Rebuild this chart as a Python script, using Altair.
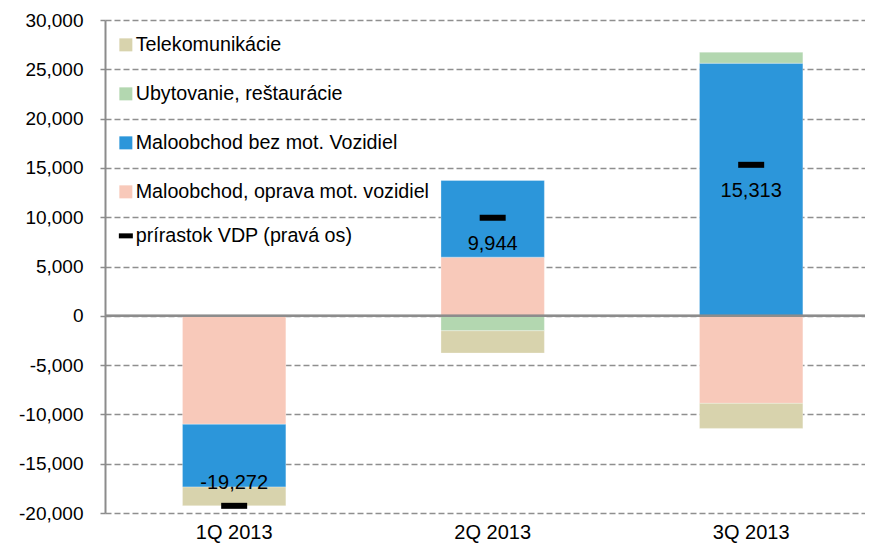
import altair as alt
import pandas as pd

quarters = ["1Q 2013", "2Q 2013", "3Q 2013"]
series_names = [
    "Maloobchod, oprava mot. vozidiel",
    "Maloobchod bez mot. Vozidiel",
    "Ubytovanie, reštaurácie",
    "Telekomunikácie",
]
oprava = [-11000, 5950, -8880]
bez_voz = [-6370, 7780, 25620]
ubytovanie = [0, -1520, 1120]
telekom = [-1900, -2260, -2540]
vdp = [-19272, 9944, 15313]
vdp_name = "prírastok VDP (pravá os)"

legend_order = [
    "Telekomunikácie",
    "Ubytovanie, reštaurácie",
    "Maloobchod bez mot. Vozidiel",
    "Maloobchod, oprava mot. vozidiel",
]
legend_colors = ["#D8D3AD", "#B3D7B0", "#2C96DA", "#F8C9BA"]

rows = []
for i, q in enumerate(quarters):
    for k, (name, vals) in enumerate(zip(series_names, [oprava, bez_voz, ubytovanie, telekom])):
        rows.append({"q": q, "series": name, "value": vals[i], "order": k})
bars_df = pd.DataFrame(rows)
vdp_df = pd.DataFrame({"q": quarters, "vdp": vdp, "name": [vdp_name] * 3})

FONT = "Liberation Sans"

xscale = alt.Scale(domain=quarters, paddingInner=0.6, paddingOuter=0.27, align=0.555)
yscale = alt.Scale(domain=[-20000, 30000], nice=False, zero=False)

x_enc = alt.X(
    "q:N", scale=xscale, sort=quarters, title=None,
    axis=alt.Axis(labelAngle=0, labelFontSize=20, labelFont=FONT, labelColor="black",
                  ticks=False, tickSize=0, domain=False, grid=False,
                  labelBaseline="alphabetic", labelPadding=25),
)

bars = alt.Chart(bars_df).mark_bar(stroke="white", strokeWidth=0.5, strokeOpacity=0.6).encode(
    x=x_enc,
    y=alt.Y(
        "value:Q", scale=yscale, stack="zero", title=None,
        axis=alt.Axis(values=list(range(-20000, 30001, 5000)),
                      labelExpr="replace(format(datum.value, ','), '\u2212', '-')",
                      labelFontSize=19, labelFont=FONT, labelColor="black",
                      labelPadding=17, tickSize=5, tickColor="#8c8c8c", tickWidth=1.5,
                      domainColor="#8c8c8c", domainWidth=2,
                      grid=True, gridColor="#8f8f8f", gridDash=[6, 3], gridWidth=1.5),
    ),
    color=alt.Color(
        "series:N",
        scale=alt.Scale(domain=legend_order, range=legend_colors),
        legend=alt.Legend(orient="none", legendX=11, legendY=15, title=None,
                          symbolType="square", symbolSize=169, symbolStrokeWidth=0,
                          labelFontSize=19.7, labelFont=FONT, labelColor="black",
                          labelOffset=0, rowPadding=28, padding=0, labelLimit=400),
    ),
    order=alt.Order("order:Q"),
)

zero_rule = alt.Chart(vdp_df).mark_rule(color="#8c8c8c", strokeWidth=2).encode(
    y=alt.datum(0, scale=yscale),
)

ticks = alt.Chart(vdp_df).mark_tick(size=26, thickness=6, opacity=1).encode(
    x=alt.X("q:N", scale=xscale, sort=quarters),
    y=alt.Y("vdp:Q", scale=yscale),
    color=alt.Color(
        "name:N",
        scale=alt.Scale(domain=[vdp_name], range=["black"]),
        legend=alt.Legend(orient="none", legendX=11, legendY=206, title=None,
                          symbolType="stroke", symbolSize=196, symbolStrokeWidth=5,
                          symbolStrokeColor="black", symbolOpacity=1,
                          labelFontSize=19.7, labelFont=FONT, labelColor="black",
                          labelOffset=0, padding=0, labelLimit=400),
    ),
)

label_base = alt.Chart(vdp_df).transform_calculate(
    lab="replace(format(datum.vdp, ','), '\u2212', '-')"
)
labels_pos = label_base.transform_filter("datum.vdp >= 0").mark_text(
    fontSize=20, font=FONT, color="black", dy=26
).encode(
    x=alt.X("q:N", scale=xscale, sort=quarters),
    y=alt.Y("vdp:Q", scale=yscale),
    text="lab:N",
)
labels_neg = label_base.transform_filter("datum.vdp < 0").mark_text(
    fontSize=20, font=FONT, color="black", dy=-23
).encode(
    x=alt.X("q:N", scale=xscale, sort=quarters),
    y=alt.Y("vdp:Q", scale=yscale),
    text="lab:N",
)

chart = alt.layer(bars, zero_rule, ticks, labels_pos, labels_neg).resolve_scale(
    color="independent"
).properties(
    width=760, height=493,
    autosize=alt.AutoSizeParams(type="none"),
    padding={"left": 97, "top": 12, "right": 0, "bottom": 31},
).configure_view(stroke=None)

chart.save("out.html", embed_options={"renderer": "svg", "actions": False})
